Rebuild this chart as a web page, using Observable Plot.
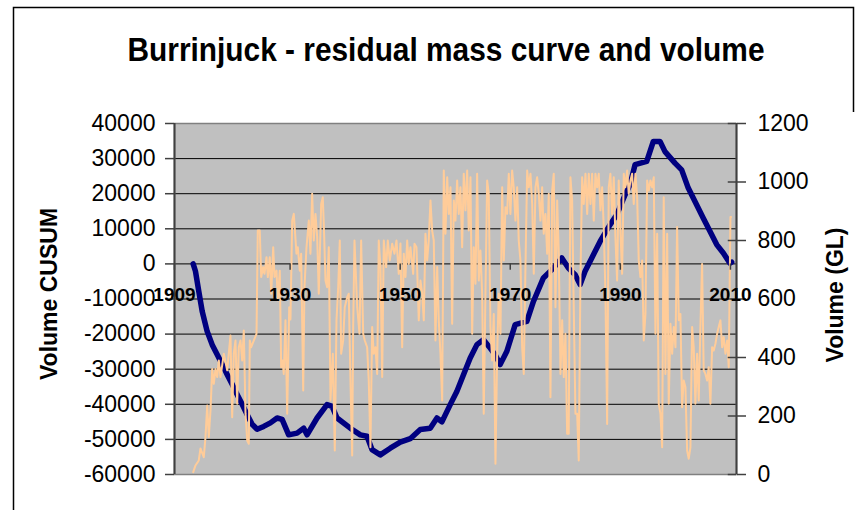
<!DOCTYPE html>
<html><head><meta charset="utf-8">
<script src="https://cdn.jsdelivr.net/npm/d3@7"></script>
<script src="https://cdn.jsdelivr.net/npm/@observablehq/plot@0.6"></script>
<style>body{margin:0;background:#fff}#chart{width:865px;height:510px}</style>
</head><body><div id="chart"></div>
<script>
const title = "Burrinjuck - residual mass curve and volume";
const leftLabel = "Volume CUSUM";
const rightLabel = "Volume (GL)";
const leftTicks = [-60000,-50000,-40000,-30000,-20000,-10000,0,10000,20000,30000,40000];
const rightTicks = [0,200,400,600,800,1000,1200];
const xTickYears = [1909,1930,1950,1970,1990,2010];

const cusumYears = [
1912.39,1912.81,1913.41,1914.03,1914.93,1915.84,1916.75,1917.66,1918.56,1919.47,
1920.38,1921.29,1922.19,1923.10,1924.01,1925.21,1926.42,1927.64,1928.55,1929.74,
1931.27,1932.47,1933.08,1934.90,1936.71,1937.62,1938.53,1940.94,1942.76,1943.97,
1944.88,1946.39,1948.20,1950.02,1951.83,1953.65,1955.46,1956.68,1957.58,1959.09,
1960.31,1961.50,1962.72,1963.94,1965.13,1966.35,1967.26,1968.16,1969.38,1970.89,
1973.01,1974.21,1976.02,1977.84,1979.36,1980.56,1981.78,1982.69,1983.59,1984.81,
1986.32,1988.14,1989.35,1990.86,1991.77,1992.67,1994.79,1995.99,1997.21,1998.11,
1999.93,2001.14,2002.34,2003.56,2005.07,2006.28,2007.50,2008.70,2009.91,2010.22];
const cusumValues = [
0,-2100,-7800,-13500,-19200,-23000,-25800,-28600,-31500,-34300,
-37200,-40000,-42900,-45700,-47100,-46300,-45300,-43900,-44300,-48700,
-48200,-46800,-48700,-43900,-40100,-40600,-43900,-46800,-48700,-49100,
-52900,-54400,-52500,-50800,-49800,-47200,-46800,-43900,-45000,-40100,
-36300,-31600,-26800,-23000,-21600,-24000,-25900,-28700,-24900,-17300,
-16400,-10700,-4000,-1200,1700,-1200,-3100,-5900,-2100,1700,
6400,11200,14000,19700,22600,28300,29200,34900,34900,32000,
28700,26800,21600,17800,13000,9300,5500,3100,200,500];

const volumeYears = [
1912.40,1912.81,1913.41,1913.72,1914.32,1914.63,1914.94,1915.23,1915.54,1915.85,
1916.14,1916.45,1916.76,1917.05,1917.36,1917.96,1918.57,1919.17,1919.48,1919.77,
1920.08,1920.39,1920.68,1920.99,1921.30,1921.59,1921.90,1922.21,1922.50,1922.68,
1922.93,1923.40,1923.90,1924.13,1924.49,1924.75,1925.11,1925.35,1925.71,1925.95,
1926.31,1926.57,1926.93,1927.17,1927.53,1927.76,1928.13,1928.38,1928.62,1928.85,
1929.16,1929.47,1929.84,1930.07,1930.38,1930.67,1931.16,1931.40,1931.76,1932.01,
1932.38,1932.61,1932.98,1933.40,1933.70,1934.01,1934.30,1934.61,1934.92,1935.21,
1935.65,1935.94,1936.12,1936.43,1936.74,1937.03,1937.34,1937.76,1938.12,1938.43,
1938.74,1939.03,1939.28,1939.64,1939.93,1940.37,1940.66,1940.97,1941.28,1941.46,
1941.70,1942.19,1942.61,1942.91,1943.28,1943.57,1944.00,1944.29,1944.60,1944.91,
1945.20,1945.51,1945.82,1946.11,1946.42,1946.73,1947.02,1947.45,1947.75,1948.11,
1948.55,1948.96,1949.33,1949.74,1950.05,1950.36,1950.65,1950.96,1951.27,1951.56,
1951.87,1952.36,1952.60,1952.96,1953.38,1953.69,1953.99,1954.29,1954.59,1954.90,
1955.19,1955.50,1955.81,1956.10,1956.41,1956.72,1957.01,1957.32,1957.63,1957.92,
1958.23,1958.54,1958.83,1959.14,1959.44,1959.74,1960.04,1960.35,1960.64,1960.95,
1961.26,1961.55,1961.86,1962.17,1962.46,1962.77,1963.08,1963.37,1963.68,1963.98,
1964.28,1964.58,1964.89,1965.18,1965.49,1965.80,1966.09,1966.40,1966.71,1967.00,
1967.31,1967.62,1967.91,1968.22,1968.53,1968.82,1969.13,1969.43,1969.73,1970.03,
1970.34,1970.63,1970.94,1971.25,1971.54,1971.85,1972.16,1972.45,1972.76,1973.07,
1973.36,1973.67,1973.98,1974.27,1974.58,1974.88,1975.18,1975.48,1975.79,1976.08,
1976.39,1976.70,1976.99,1977.30,1977.61,1977.90,1978.21,1978.52,1978.81,1979.12,
1979.43,1979.72,1980.02,1980.33,1980.62,1980.93,1981.24,1981.53,1981.84,1982.15,
1982.44,1982.75,1983.06,1983.35,1983.66,1983.97,1984.26,1984.57,1984.87,1985.17,
1985.47,1985.78,1986.07,1986.38,1986.69,1986.98,1987.29,1987.60,1987.89,1988.19,
1988.50,1988.80,1989.10,1989.41,1989.70,1990.01,1990.32,1990.62,1990.92,1991.23,
1991.52,1991.83,1992.14,1992.43,1992.74,1993.05,1993.34,1993.65,1993.96,1994.25,
1994.56,1994.87,1995.16,1995.47,1995.78,1996.07,1996.37,1996.68,1996.97,1997.28,
1997.59,1997.88,1998.19,1998.50,1998.79,1999.10,1999.41,1999.70,2000.01,2000.31,
2000.61,2000.91,2001.22,2001.51,2001.82,2002.13,2002.42,2002.73,2003.04,2003.33,
2003.63,2003.94,2004.24,2004.54,2004.85,2005.14,2005.45,2005.76,2006.05,2006.36,
2006.67,2006.96,2007.27,2007.58,2007.87,2008.18,2008.49,2008.78,2009.09,2009.40,
2009.69,2010.00,2010.12];
const volumeGL = [
8,31,48,89,59,128,236,128,219,361,
310,361,333,390,333,413,356,475,196,413,
458,242,435,458,390,492,208,116,105,458,
435,458,481,834,834,675,709,686,743,675,
743,618,777,675,697,595,697,367,390,344,
527,208,572,530,868,891,755,777,697,755,
287,640,777,868,755,960,800,891,812,618,
925,948,857,663,640,777,253,413,82,527,
640,800,413,458,572,606,618,321,65,504,
800,572,481,800,481,458,435,321,93,504,
413,435,344,800,709,333,800,709,800,732,
789,755,800,686,790,435,755,675,800,720,
777,686,789,777,527,663,618,527,823,732,
800,937,834,800,458,709,527,413,253,1039,
823,1016,891,982,515,937,868,1005,891,982,
777,1028,903,1039,834,1016,481,777,652,1028,
663,766,618,208,618,1005,960,504,390,549,
37,413,618,481,982,732,914,891,1028,891,
1039,982,868,982,800,732,435,344,709,1039,
982,1028,925,686,982,1016,960,868,982,823,
891,755,960,264,971,1028,572,937,755,344,
527,333,481,139,139,1016,937,572,208,208,
48,675,1016,925,1028,891,1028,925,1028,868,
1028,982,1028,903,982,846,618,173,982,1028,
891,1016,812,663,1005,834,686,1028,982,1039,
960,1005,1028,925,1028,948,732,675,732,458,
549,1005,971,1005,982,1016,481,823,242,208,
93,948,344,823,242,515,413,504,435,846,
527,549,230,321,299,82,54,93,504,435,
242,413,253,504,720,356,344,321,367,242,
435,424,447,481,504,527,435,470,413,458,
367,880,880];

const toLeft = v => -60000 + v * 100000 / 1200;
const fromLeft = y => Math.round((y + 60000) * 1200 / 100000);
const cusum = cusumYears.map((yr, i) => ({year: yr, value: cusumValues[i]}));
const volume = volumeYears.map((yr, i) => ({year: yr, value: toLeft(volumeGL[i])}));
const xEnd = 2011.1;
const font = "'Liberation Sans', Arial, Helvetica, sans-serif";

const svg = Plot.plot({
  width: 865, height: 510,
  marginLeft: 174, marginRight: 129, marginTop: 123, marginBottom: 36,
  style: {fontFamily: font, background: "white", color: "black", overflow: "visible"},
  x: {domain: [1909, xEnd], axis: null},
  y: {domain: [-60000, 40000], axis: null},
  marks: [
    Plot.frame({fill: "#C0C0C0", stroke: null}),
    Plot.ruleY(leftTicks, {stroke: "#000", strokeWidth: 1}),
    Plot.frame({stroke: "#808080", strokeWidth: 1.5}),
    Plot.line(cusum, {x: "year", y: "value", stroke: "#000080", strokeWidth: 5.5, strokeLinejoin: "round"}),
    Plot.line(volume, {x: "year", y: "value", stroke: "#FFCC99", strokeWidth: 2}),
    Plot.ruleX([1909], {stroke: "#404040", strokeWidth: 2}),
    Plot.ruleX([xEnd], {stroke: "#404040", strokeWidth: 2}),
    Plot.ruleX(xTickYears, {y1: 0, y2: -1800, stroke: "#404040", strokeWidth: 1.5}),
    Plot.ruleY(rightTicks.map(toLeft), {x1: xEnd - 1.5, x2: xEnd, stroke: "#404040", strokeWidth: 1.5}),
    Plot.axisY({anchor: "left", ticks: leftTicks, tickFormat: d => String(d), tickSize: 9, tickPadding: 10, fontSize: 23, label: null, stroke: "#404040", strokeWidth: 1.5}),
    Plot.axisY({anchor: "right", ticks: rightTicks.map(toLeft), tickFormat: d => String(fromLeft(d)), tickSize: 9, tickPadding: 12, fontSize: 23, label: null, stroke: "#404040", strokeWidth: 1.5}),
    Plot.text(xTickYears, {x: d => d, y: 0, text: d => String(d), dy: 31, fontSize: 19, fontWeight: "bold", fill: "black"})
  ]
});

const s = d3.select(svg);
s.append("path").attr("d", "M13.5,510V7.5H853.5V112").attr("fill", "none").attr("stroke", "#000").attr("stroke-width", 1.5);
s.append("text").attr("x", 446).attr("y", 61).attr("text-anchor", "middle")
  .attr("font-family", font).attr("font-weight", "bold").attr("font-size", 34)
  .attr("textLength", 637).attr("lengthAdjust", "spacingAndGlyphs").attr("fill", "#000").text(title);
s.append("text").attr("transform", "translate(57,294) rotate(-90)").attr("text-anchor", "middle")
  .attr("font-family", font).attr("font-weight", "bold").attr("font-size", 23).attr("fill", "#000").text(leftLabel);
s.append("text").attr("transform", "translate(843,295) rotate(-90)").attr("text-anchor", "middle")
  .attr("font-family", font).attr("font-weight", "bold").attr("font-size", 23).attr("fill", "#000").text(rightLabel);

document.getElementById("chart").appendChild(svg);
</script>
</body></html>
